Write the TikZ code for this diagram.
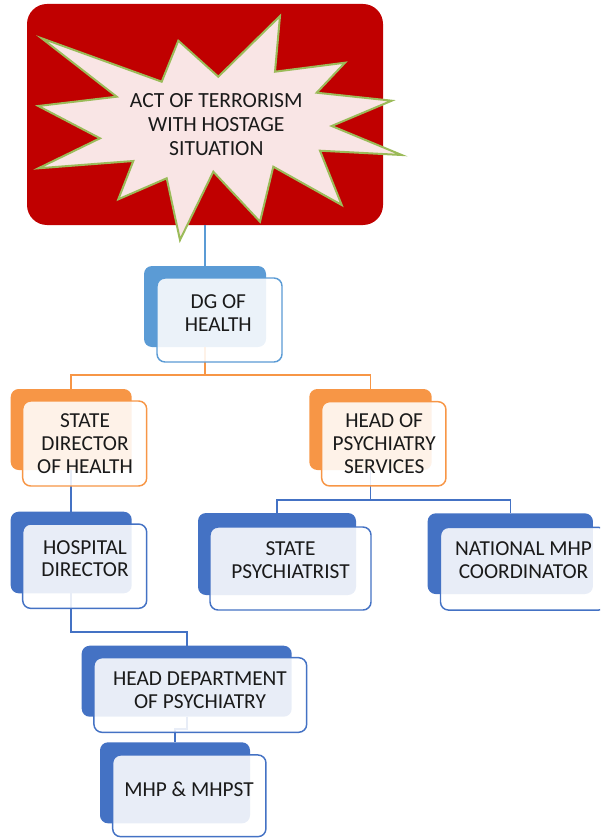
\documentclass[tikz,border=0pt]{standalone}
\usepackage{fontspec}
\setmainfont{Carlito}
\definecolor{alarmred}{HTML}{C00000}
\definecolor{burstfill}{HTML}{F9E5E5}
\definecolor{burstline}{HTML}{9BBB59}
\definecolor{skyblue}{HTML}{5B9BD5}
\definecolor{orangeacc}{HTML}{F79646}
\definecolor{royalblue}{HTML}{4472C4}
\definecolor{textblack}{HTML}{1A1A1A}
\begin{document}
\begin{tikzpicture}[x=0.75pt,y=-0.75pt,
  sz/.style 2 args={minimum width=#1*0.75pt, minimum height=#2*0.75pt},
  backbox/.style={rectangle, inner sep=0pt, outer sep=0pt, rounded corners=6pt, fill=#1, draw=none},
  frontbox/.style={rectangle, inner sep=0pt, outer sep=0pt, rounded corners=6pt, fill=white, fill opacity=0.88, draw=#1, draw opacity=1, line width=1.1pt},
  link/.style={draw=#1, line width=1.2pt},
  txt/.style={align=center, inner sep=0pt, outer sep=0pt, text=textblack, font=\fontsize{16}{17}\selectfont},
  burst/.style={fill=burstfill, draw=burstline, line width=1.5pt, line join=miter}
]
\useasboundingbox (0,0) rectangle (600,838);
\clip (0,0) rectangle (600,838);

% event box
\node[rectangle, inner sep=0pt, outer sep=0pt, rounded corners=15pt, fill=alarmred, sz={356}{221}] (event) at (205,114.5) {};
\draw[burst] (41.7,38.3) -- (161.7,81.7) -- (178.3,40.7) -- (218.3,76.7) -- (280,16) -- (275,71.7)
  -- (345,62.7) -- (316.7,92.7) -- (391.7,100.7) -- (331.7,126) -- (401.7,155) -- (320,150.7)
  -- (341.7,205) -- (273.3,166.7) -- (260,221.7) -- (213.3,171.7) -- (180,240) -- (166.7,178.3)
  -- (118.3,199.3) -- (133.3,161) -- (38.3,168.3) -- (100,138.3) -- (38.3,106) -- (116.7,96.7) -- cycle;
\node[txt, font=\fontsize{16.2}{17.8}\selectfont] (act) at (216.3,124.5) {ACT OF TERRORISM\\WITH HOSTAGE\\SITUATION};

% back boxes
\node[backbox=skyblue, sz={122}{81}] (dgB) at (205,306.5) {};
\node[backbox=orangeacc, sz={121}{81}] (sdhB) at (71.2,429.5) {};
\node[backbox=orangeacc, sz={122.4}{81}] (hopsB) at (370.5,429.5) {};
\node[backbox=royalblue, sz={121}{81.6}] (hospB) at (71.2,552.5) {};
\node[backbox=royalblue, sz={158}{82}] (spB) at (277,554) {};
\node[backbox=royalblue, sz={165.3}{80.7}] (nmcB) at (510.3,553.7) {};
\node[backbox=royalblue, sz={210}{71}] (hdopB) at (186.7,681.2) {};
\node[backbox=royalblue, sz={150}{81}] (mhpB) at (175,782.8) {};

% connectors
\draw[link=skyblue] (event.south) -- (dgB.north);
\coordinate (j1) at (205,375);
\draw[link=orangeacc] (dgB.south) -- (j1) -| (sdhB.north);
\draw[link=orangeacc] (j1) -| (hopsB.north);
\coordinate (j2) at (370.5,500);
\draw[link=royalblue] (hopsB.south) -- (j2) -| (spB.north);
\draw[link=royalblue] (j2) -| (nmcB.north);
\draw[link=royalblue] (sdhB.south) -- (hospB.north);
\coordinate (j3) at (71.2,631.7);
\draw[link=royalblue] (hospB.south) -- (j3) -| (hdopB.north);
\coordinate (j4) at (186.7,729);
\draw[link=royalblue] (hdopB.south) -- (j4) -| (mhpB.north);

% front boxes
\node[frontbox=skyblue, sz={125}{84}] (dgF) at (219.5,320) {};
\node[frontbox=orangeacc, sz={124}{85}] (sdhF) at (84.7,443.5) {};
\node[frontbox=orangeacc, sz={124.3}{84.3}] (hopsF) at (383.8,443.8) {};
\node[frontbox=royalblue, sz={124}{84.3}] (hospF) at (84.7,566.2) {};
\node[frontbox=royalblue, sz={161}{83}] (spF) at (290.5,568.5) {};
\node[frontbox=royalblue, sz={166}{82.7}] (nmcF) at (523.5,568.7) {};
\node[frontbox=royalblue, sz={212.7}{74.6}] (hdopF) at (200.3,695) {};
\node[frontbox=royalblue, sz={153.3}{81.7}] (mhpF) at (189.3,795.8) {};

% labels
\node[txt] (dgT) at (218.3,313.3) {DG OF\\HEALTH};
\node[txt] (sdhT) at (85,443.5) {STATE\\DIRECTOR\\OF HEALTH};
\node[txt] (hopsT) at (384.2,443.5) {HEAD OF\\PSYCHIATRY\\SERVICES};
\node[txt] (hospT) at (85,558.7) {HOSPITAL\\DIRECTOR};
\node[txt] (spT) at (290.5,560) {STATE\\PSYCHIATRIST};
\node[txt] (nmcT) at (523.5,560.3) {NATIONAL MHP\\COORDINATOR};
\node[txt] (hdopT) at (200,690.5) {HEAD DEPARTMENT\\OF PSYCHIATRY};
\node[txt] (mhpT) at (189,789.2) {MHP \& MHPST};
\end{tikzpicture}
\end{document}
